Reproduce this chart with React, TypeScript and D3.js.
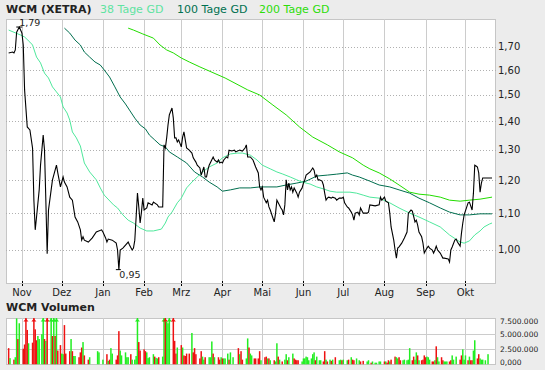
import React from 'react';
import * as d3 from 'd3';

// ---------- data ----------
const START = Date.UTC(2010, 9, 20); // day 0 = 20 Oct 2010
const END_DAY = 369;
const dayToDate = (d: number) => new Date(START + d * 86400000);

const titleText = 'WCM (XETRA)';
const legendLabels = ['38 Tage GD', '100 Tage GD', '200 Tage GD'];
const volumeTitle = 'WCM Volumen';
const monthLabels = ['Nov', 'Dez', 'Jan', 'Feb', 'Mrz', 'Apr', 'Mai', 'Jun', 'Jul', 'Aug', 'Sep', 'Okt'];
const priceTicks = [1.0, 1.1, 1.2, 1.3, 1.4, 1.5, 1.6, 1.7];
const volumeTicks = [0, 2.5, 5, 7.5]; // millions
const volumeTickLabels = ['0,000', '2.500.000', '5.000.000', '7.500.000'];

// [day, close]
const price: [number, number][] = [
  [2, 1.673], [5, 1.677], [6, 1.673], [7, 1.686], [8, 1.766], [10, 1.790], [11, 1.776], [12, 1.762],
  [13, 1.708], [14, 1.519], [16, 1.379], [18, 1.368], [20, 1.305], [21, 1.139], [22, 1.054], [23, 1.090],
  [25, 1.170], [26, 1.248], [28, 1.350], [29, 1.298], [30, 1.139], [31, 0.990], [32, 1.110], [34, 1.170],
  [35, 1.201], [38, 1.248], [39, 1.223], [41, 1.179], [43, 1.210], [44, 1.194], [46, 1.179], [48, 1.148],
  [50, 1.139], [52, 1.090], [54, 1.076], [56, 1.054], [57, 1.026], [58, 1.035], [59, 1.026], [62, 1.021],
  [65, 1.032], [68, 1.048], [72, 1.054], [73, 1.048], [75, 1.032], [76, 1.021], [77, 1.029], [80, 1.026],
  [83, 1.018], [84, 1.000], [85, 0.950], [86, 1.000], [88, 1.005], [90, 1.013], [92, 1.021], [93, 1.013],
  [95, 1.000], [96, 1.005], [97, 1.026], [98, 1.090], [99, 1.160], [100, 1.119], [101, 1.073], [102, 1.104],
  [103, 1.145], [104, 1.110], [106, 1.116], [107, 1.131], [110, 1.125], [111, 1.133], [114, 1.125], [115, 1.119],
  [118, 1.119], [119, 1.316], [120, 1.305], [121, 1.340], [122, 1.386], [123, 1.423], [125, 1.449], [126, 1.411],
  [127, 1.340], [128, 1.340], [129, 1.326], [130, 1.333], [132, 1.309], [133, 1.343], [134, 1.361], [135, 1.333],
  [136, 1.305], [138, 1.298], [140, 1.288], [141, 1.272], [143, 1.258], [144, 1.248], [146, 1.239], [147, 1.216],
  [149, 1.242], [150, 1.210], [151, 1.210], [152, 1.232], [153, 1.248], [156, 1.275], [157, 1.265], [159, 1.258],
  [160, 1.265], [161, 1.255], [162, 1.258], [163, 1.255], [164, 1.265], [166, 1.275], [167, 1.272], [168, 1.298],
  [170, 1.295], [172, 1.298], [173, 1.292], [176, 1.298], [178, 1.295], [180, 1.305], [181, 1.316], [182, 1.275],
  [184, 1.275], [186, 1.265], [188, 1.242], [190, 1.223], [191, 1.179], [192, 1.170], [193, 1.179], [194, 1.148],
  [196, 1.131], [197, 1.139], [198, 1.119], [199, 1.110], [201, 1.087], [202, 1.076], [203, 1.101], [204, 1.139],
  [205, 1.131], [207, 1.116], [208, 1.110], [209, 1.096], [210, 1.125], [211, 1.201], [212, 1.170], [213, 1.191],
  [214, 1.170], [215, 1.179], [216, 1.163], [217, 1.176], [219, 1.160], [220, 1.148], [221, 1.163], [223, 1.176],
  [224, 1.191], [225, 1.201], [226, 1.216], [229, 1.226], [231, 1.239], [232, 1.232], [233, 1.210], [234, 1.216],
  [235, 1.201], [236, 1.201], [238, 1.197], [239, 1.185], [240, 1.160], [241, 1.139], [242, 1.145], [243, 1.148],
  [245, 1.145], [246, 1.148], [248, 1.145], [249, 1.139], [251, 1.145], [253, 1.145], [254, 1.148], [255, 1.131],
  [257, 1.119], [258, 1.116], [260, 1.104], [261, 1.096], [262, 1.081], [263, 1.101], [265, 1.104], [266, 1.096],
  [267, 1.116], [269, 1.101], [270, 1.101], [272, 1.101], [273, 1.104], [274, 1.125], [278, 1.122], [281, 1.125],
  [282, 1.148], [283, 1.139], [285, 1.148], [286, 1.136], [288, 1.131], [289, 1.101], [290, 1.062], [292, 1.026],
  [293, 1.000], [294, 0.979], [295, 1.005], [296, 1.008], [298, 1.018], [300, 1.032], [302, 1.048], [303, 1.101],
  [305, 1.110], [306, 1.107], [308, 1.076], [309, 1.081], [310, 1.067], [311, 1.048], [313, 1.035], [314, 1.018],
  [315, 0.992], [317, 1.005], [318, 1.010], [319, 1.005], [321, 1.000], [322, 0.992], [323, 1.000], [324, 1.010],
  [325, 1.000], [327, 0.992], [329, 0.979], [330, 0.979], [333, 0.977], [334, 0.969], [335, 1.000], [336, 1.008],
  [338, 1.026], [339, 1.029], [340, 1.021], [342, 1.010], [343, 1.045], [344, 1.073], [345, 1.096], [347, 1.119],
  [348, 1.131], [349, 1.133], [351, 1.110], [352, 1.160], [353, 1.248], [354, 1.245], [355, 1.242], [356, 1.223],
  [357, 1.163], [358, 1.191], [359, 1.207], [366, 1.207],
];

const gd38: [number, number][] = [
  [2, 1.776], [11, 1.753], [14, 1.744], [18, 1.721], [20, 1.708], [23, 1.655], [26, 1.630], [29, 1.587],
  [32, 1.567], [35, 1.531], [38, 1.511], [41, 1.491], [43, 1.453], [46, 1.430], [48, 1.404], [50, 1.361],
  [53, 1.340], [56, 1.312], [59, 1.255], [63, 1.226], [68, 1.201], [71, 1.176], [74, 1.154], [81, 1.125],
  [84, 1.116], [88, 1.096], [92, 1.081], [96, 1.073], [101, 1.059], [106, 1.051], [111, 1.051], [117, 1.056],
  [120, 1.073], [122, 1.090], [125, 1.104], [129, 1.131], [132, 1.145], [136, 1.176], [140, 1.194], [144, 1.210],
  [148, 1.226], [153, 1.242], [159, 1.255], [163, 1.272], [169, 1.285], [174, 1.288], [178, 1.288], [184, 1.281],
  [189, 1.265], [193, 1.248], [199, 1.236], [204, 1.226], [208, 1.220], [214, 1.210], [219, 1.201], [223, 1.194],
  [229, 1.188], [234, 1.179], [239, 1.173], [244, 1.166], [249, 1.163], [254, 1.163], [259, 1.163], [264, 1.160],
  [269, 1.154], [274, 1.148], [281, 1.145], [289, 1.131], [296, 1.116], [304, 1.101], [311, 1.090], [319, 1.076],
  [327, 1.062], [334, 1.040], [342, 1.021], [345, 1.018], [349, 1.024], [353, 1.040], [357, 1.051], [360, 1.062],
  [364, 1.070], [366, 1.073],
];

const gd100: [number, number][] = [
  [44, 1.785], [48, 1.762], [52, 1.730], [56, 1.708], [59, 1.677], [63, 1.655], [67, 1.634], [71, 1.621],
  [74, 1.600], [78, 1.571], [82, 1.531], [86, 1.491], [90, 1.464], [93, 1.441], [97, 1.411], [101, 1.386],
  [105, 1.372], [108, 1.350], [112, 1.333], [116, 1.316], [120, 1.309], [123, 1.292], [129, 1.275], [136, 1.255],
  [142, 1.226], [148, 1.210], [153, 1.194], [159, 1.179], [163, 1.166], [169, 1.170], [176, 1.176], [184, 1.176],
  [191, 1.179], [204, 1.179], [211, 1.185], [219, 1.191], [226, 1.197], [234, 1.213], [242, 1.216], [249, 1.219],
  [257, 1.223], [261, 1.216], [266, 1.210], [274, 1.197], [281, 1.185], [289, 1.179], [296, 1.170], [304, 1.160],
  [311, 1.145], [319, 1.131], [327, 1.116], [334, 1.104], [342, 1.096], [349, 1.096], [357, 1.099], [366, 1.099],
];

const gd200: [number, number][] = [
  [92, 1.785], [96, 1.776], [103, 1.758], [111, 1.739], [116, 1.708], [121, 1.686], [126, 1.673], [132, 1.651],
  [138, 1.634], [146, 1.613], [165, 1.567], [182, 1.519], [191, 1.499], [201, 1.460], [211, 1.423], [221, 1.379],
  [231, 1.343], [242, 1.316], [251, 1.292], [261, 1.272], [269, 1.248], [274, 1.236], [281, 1.223], [289, 1.204],
  [296, 1.185], [304, 1.163], [311, 1.157], [319, 1.154], [327, 1.148], [334, 1.139], [342, 1.136], [349, 1.139],
  [357, 1.142], [366, 1.148],
];

// [day, volume in millions, 1 = up day / 0 = down day]
const volume: [number, number, number][] = [
  [2, 2.7, 0], [3, 1.05, 1], [6, 0.8, 0], [7, 1.2, 1], [8, 7.6, 1], [9, 4.2, 0], [10, 6.8, 1], [13, 2.6, 0],
  [14, 3.3, 0], [15, 9, 0], [16, 5.7, 0], [17, 3.5, 1], [20, 3.6, 0], [21, 9, 0], [22, 5.8, 0], [23, 4.0, 0],
  [24, 4.7, 1], [25, 4.2, 1], [27, 5.0, 1], [28, 9, 1], [29, 4.2, 0], [30, 3.9, 1], [31, 9, 0], [34, 9, 1],
  [35, 4.7, 0], [36, 9, 1], [37, 4.7, 0], [38, 9, 1], [39, 2.3, 0], [41, 3.2, 0], [42, 1.8, 1], [43, 1.7, 1],
  [44, 6.5, 0], [45, 1.8, 0], [48, 2.2, 0], [49, 4.2, 1], [50, 2.2, 0], [51, 1.4, 1], [52, 1.4, 1], [55, 1.2, 0],
  [56, 2.0, 0], [57, 2.8, 0], [58, 3.7, 1], [59, 1.5, 0], [62, 0.8, 0], [63, 1.2, 1], [69, 2.2, 1], [70, 2.0, 1],
  [73, 0.8, 1], [76, 1.7, 0], [77, 0.6, 1], [78, 0.8, 0], [79, 2.7, 1], [80, 1.8, 1], [83, 0.8, 0], [84, 1.5, 0],
  [85, 5.5, 0], [86, 2.3, 1], [87, 1.5, 1], [90, 2.0, 1], [91, 1.2, 1], [92, 1.2, 1], [94, 1.7, 0], [95, 0.8, 1],
  [97, 0.8, 1], [98, 1.4, 1], [99, 9, 1], [100, 3.7, 0], [101, 2.3, 0], [104, 2.5, 0], [105, 2.2, 0], [106, 2.0, 1],
  [107, 1.05, 1], [108, 1.2, 1], [111, 1.7, 1], [112, 1.3, 0], [113, 1.1, 1], [114, 1.0, 1], [115, 1.2, 0], [118, 1.3, 1],
  [119, 9, 1], [120, 9, 0], [121, 7.1, 1], [122, 6.8, 1], [123, 9, 1], [126, 9, 0], [127, 3.9, 0], [128, 1.8, 0],
  [129, 2.8, 1], [132, 3.2, 0], [133, 2.8, 1], [134, 1.5, 0], [135, 1.4, 0], [136, 1.8, 0], [138, 1.8, 0], [140, 5.2, 1],
  [141, 2.0, 0], [142, 2.7, 0], [143, 1.7, 0], [146, 1.0, 0], [147, 2.2, 0], [148, 1.3, 1], [149, 0.8, 1], [150, 1.2, 0],
  [153, 1.2, 1], [154, 1.2, 1], [155, 3.8, 1], [156, 1.8, 0], [157, 1.2, 1], [160, 1.2, 0], [161, 0.8, 0], [162, 1.2, 1],
  [163, 1.0, 0], [164, 1.0, 1], [165, 1.0, 1], [167, 1.8, 1], [168, 0.8, 0], [169, 2.0, 1], [171, 1.2, 1], [175, 2.7, 0],
  [176, 1.7, 1], [177, 2.2, 0], [178, 0.8, 0], [181, 1.0, 1], [182, 4.3, 1], [183, 2.8, 0], [184, 1.8, 1], [185, 1.5, 1],
  [187, 1.0, 0], [188, 1.0, 0], [190, 1.0, 0], [191, 2.2, 0], [192, 0.7, 1], [195, 1.2, 0], [196, 1.3, 0], [197, 1.0, 1],
  [198, 1.0, 0], [199, 0.7, 1], [202, 0.7, 0], [203, 0.5, 1], [204, 3.5, 1], [205, 1.3, 0], [206, 0.8, 1], [208, 0.5, 0],
  [210, 0.8, 1], [211, 1.7, 1], [212, 0.7, 0], [213, 1.2, 1], [216, 1.8, 1], [217, 1.0, 0], [218, 0.8, 0], [219, 0.7, 0],
  [220, 0.7, 0], [223, 0.5, 1], [224, 1.0, 1], [225, 1.0, 1], [226, 1.3, 1], [227, 1.2, 1], [228, 0.7, 1], [230, 1.0, 1],
  [231, 1.7, 1], [232, 2.0, 1], [233, 0.7, 0], [234, 1.3, 1], [236, 0.7, 1], [237, 0.7, 1], [239, 0.5, 0], [240, 2.2, 0],
  [241, 0.8, 1], [242, 0.5, 0], [244, 0.8, 1], [245, 0.6, 0], [246, 0.8, 1], [248, 1.2, 0], [251, 0.7, 1], [252, 0.8, 1],
  [253, 0.7, 0], [254, 0.8, 1], [257, 0.7, 1], [258, 0.8, 0], [260, 1.2, 1], [261, 0.8, 0], [262, 0.7, 0], [264, 1.0, 1],
  [266, 0.7, 1], [267, 0.5, 0], [269, 0.6, 0], [272, 0.5, 1], [273, 0.7, 1], [275, 0.3, 0], [276, 0.5, 1], [278, 0.3, 1],
  [279, 0.3, 1], [281, 0.5, 1], [282, 0.5, 1], [285, 0.5, 0], [286, 0.5, 1], [287, 0.3, 0], [288, 0.7, 0], [289, 0.5, 1],
  [290, 0.8, 0], [293, 1.3, 0], [294, 1.2, 1], [295, 1.0, 1], [296, 1.2, 0], [297, 0.7, 0], [299, 0.7, 1], [300, 0.8, 1],
  [302, 0.7, 1], [303, 0.8, 1], [304, 2.7, 1], [306, 0.7, 0], [307, 1.3, 0], [308, 0.8, 1], [309, 2.0, 1], [310, 1.5, 0],
  [311, 0.7, 1], [313, 0.7, 0], [314, 0.8, 0], [315, 1.5, 0], [316, 1.2, 0], [317, 1.3, 1], [318, 1.2, 1], [319, 0.8, 1],
  [321, 0.5, 0], [322, 0.5, 0], [323, 0.7, 1], [324, 3.0, 0], [325, 1.2, 1], [326, 0.5, 1], [328, 1.2, 0], [329, 0.7, 0],
  [330, 0.5, 1], [331, 0.5, 1], [332, 0.5, 1], [334, 0.5, 0], [335, 0.7, 0], [336, 1.5, 1], [337, 0.8, 1], [339, 1.3, 1],
  [342, 0.8, 0], [343, 1.5, 0], [344, 2.5, 1], [345, 0.8, 1], [346, 1.5, 1], [348, 0.7, 0], [349, 1.3, 1], [350, 0.7, 0],
  [351, 0.7, 0], [352, 2.3, 1], [353, 4.0, 1], [355, 1.0, 0], [356, 1.7, 0], [357, 1.0, 1], [358, 0.8, 1], [359, 0.8, 1],
  [361, 0.7, 1], [363, 1.7, 1],
];

// ---------- chart ----------
const FONT = '"DejaVu Sans", Verdana, sans-serif';
const C = {
  bg: '#ececec',
  frame: '#c6c6c6',
  vgrid: '#cccccc',
  hgrid: '#b0b0b0',
  gd38: '#4fe89c',
  gd100: '#006e4e',
  gd200: '#22dd00',
  up: '#22ee22',
  down: '#ee1111',
};

export default function App() {
  const W = 545, H = 370;
  const L = 6, R = 496, T = 19, B = 284;
  const VT = 318, VB = 364.5;

  const x = d3.scaleUtc().domain([dayToDate(0), dayToDate(END_DAY)]).range([L, R]);
  const y = d3.scaleLog().domain([0.915, 1.828]).range([B, T]);
  const yv = d3.scaleLinear().domain([0, 7.67]).range([VB, VT]);
  const months = d3.utcMonth.range(new Date(Date.UTC(2010, 10, 1)), new Date(Date.UTC(2011, 10, 1)));

  const line = d3.line<[number, number]>()
    .x((d) => x(dayToDate(d[0])))
    .y((d) => y(d[1]));

  const fmt = (v: number) => d3.format('.2f')(v).replace('.', ',');
  const maxP = d3.greatest(price, (d) => d[1])!;
  const minP = d3.least(price, (d) => d[1])!;
  const maxX = x(dayToDate(maxP[0])), maxY = y(maxP[1]);
  const minX = x(dayToDate(minP[0])), minY = y(minP[1]);

  const legendX = [100, 177, 259];
  const legendColors = ['#5fe3a1', '#007050', '#2ddd0a'];

  return (
    <svg width={W} height={H} style={{ position: 'absolute', left: 0, top: 0, fontFamily: FONT }}>
      <defs>
        <clipPath id="plotClip"><rect x={L} y={T} width={R - L} height={B - T} /></clipPath>
        <clipPath id="volClip"><rect x={L} y={VT} width={R - L} height={VB - VT} /></clipPath>
      </defs>
      <rect x={0} y={0} width={W} height={H} fill={C.bg} />

      {/* title & legend */}
      <text x={6} y={13} fontSize={11} fontWeight="bold" fill="#222">{titleText}</text>
      {legendLabels.map((t, i) => (
        <text key={t} x={legendX[i]} y={13} fontSize={11} fill={legendColors[i]}>{t}</text>
      ))}

      {/* main plot */}
      <rect x={L + 0.5} y={T + 0.5} width={R - L - 1} height={B - T - 1} fill="#fff" stroke={C.frame} />
      {priceTicks.map((t) => (
        <line key={t} x1={L} x2={R} y1={Math.round(y(t)) + 0.5} y2={Math.round(y(t)) + 0.5}
          stroke={C.hgrid} strokeDasharray="1,2" />
      ))}
      {months.map((m) => {
        const xx = Math.round(x(m)) + 0.5;
        return <line key={+m} x1={xx} x2={xx} y1={T} y2={B} stroke={C.vgrid} />;
      })}
      <g clipPath="url(#plotClip)" fill="none">
        <path d={line(gd200)!} stroke={C.gd200} strokeWidth={1} />
        <path d={line(gd100)!} stroke={C.gd100} strokeWidth={1} />
        <path d={line(gd38)!} stroke={C.gd38} strokeWidth={1} />
        <path d={line(price)!} stroke="#000" strokeWidth={1.1} />
      </g>
      {/* high / low markers */}
      <line x1={maxX - 3} x2={maxX + 3} y1={maxY} y2={maxY} stroke="#000" />
      <text x={maxX} y={maxY - 1.5} fontSize={9.5} fill="#222">{fmt(maxP[1])}</text>
      <line x1={minX - 3} x2={minX + 2} y1={minY} y2={minY} stroke="#000" />
      <text x={minX + 0.5} y={minY + 8.5} fontSize={9.5} fill="#222">{fmt(minP[1])}</text>

      {/* month ticks and labels */}
      {months.map((m, i) => {
        const xx = Math.round(x(m)) + 0.5;
        return (
          <g key={'m' + i}>
            <line x1={xx} x2={xx} y1={B - 3} y2={B + 3} stroke="#000" strokeDasharray="2,1" />
            <text x={x(m)} y={296} fontSize={10} textAnchor="middle" fill="#222">{monthLabels[i]}</text>
          </g>
        );
      })}
      {/* price axis labels */}
      {priceTicks.map((t) => (
        <text key={'l' + t} x={498} y={y(t)} dy="0.35em" fontSize={10} fill="#222">{fmt(t)}</text>
      ))}

      {/* volume panel */}
      <text x={6} y={311} fontSize={11} fontWeight="bold" fill="#222">{volumeTitle}</text>
      <rect x={L + 0.5} y={VT + 0.5} width={R - L - 1} height={VB - VT - 0.5} fill="#fff" stroke={C.frame} />
      {volumeTicks.slice(1, 3).map((t) => (
        <line key={'vg' + t} x1={L} x2={R} y1={Math.round(yv(t)) + 0.5} y2={Math.round(yv(t)) + 0.5} stroke={C.vgrid} />
      ))}
      {months.map((m) => {
        const xx = Math.round(x(m)) + 0.5;
        return <line key={'vm' + +m} x1={xx} x2={xx} y1={VT} y2={VB} stroke={C.vgrid} />;
      })}
      <g clipPath="url(#volClip)">
        {volume.map((d) => {
          const xx = x(dayToDate(d[0]));
          const top = Math.max(yv(d[1]), VT);
          return (
            <rect key={'v' + d[0]} x={xx - 0.75} y={top} width={1.5} height={VB - top}
              fill={d[2] ? C.up : C.down} />
          );
        })}
      </g>
      {volume.filter((d) => d[1] > yv.domain()[1]).map((d) => {
        const xx = x(dayToDate(d[0]));
        return (
          <path key={'a' + d[0]} d={`M${xx - 2.5},${VT + 3.5}L${xx + 2.5},${VT + 3.5}L${xx},${VT + 0.5}Z`}
            fill={d[2] ? C.up : C.down} />
        );
      })}
      {volumeTicks.map((t, i) => (
        <text key={'vl' + t} x={500} y={Math.min(Math.max(yv(t), VT + 3), VB - 2)} dy="0.35em" fontSize={7.5} fill="#222">
          {volumeTickLabels[i]}
        </text>
      ))}
    </svg>
  );
}
